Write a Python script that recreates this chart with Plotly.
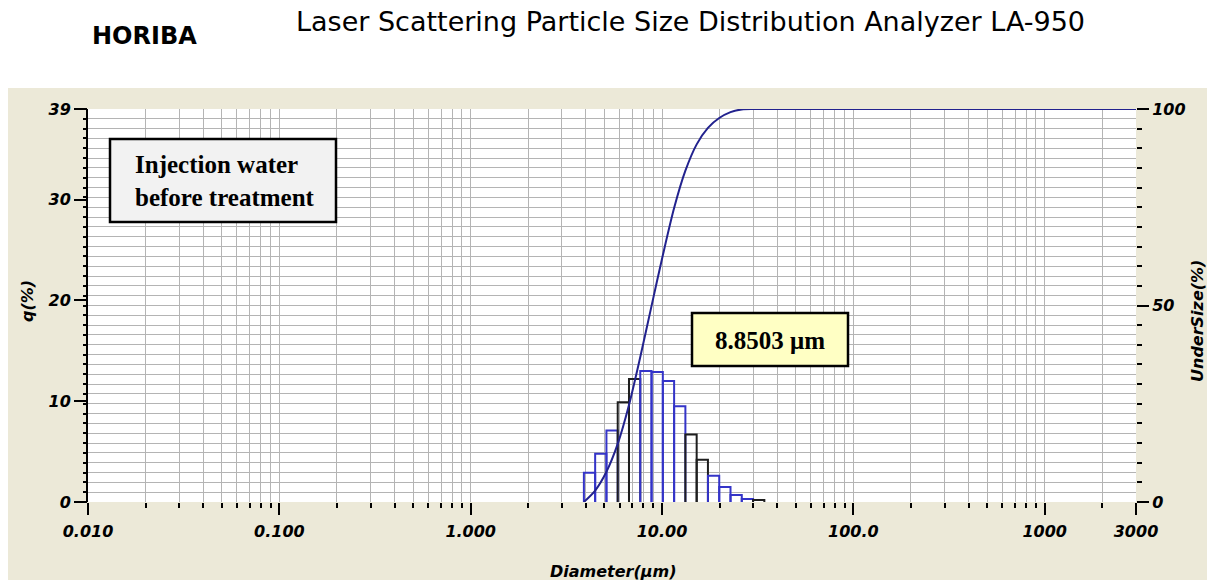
import plotly.graph_objects as go

# ---- data ----
bin_edges = [3.905, 4.472, 5.122, 5.867, 6.720, 7.697, 8.816, 10.097, 11.565,
             13.246, 15.172, 17.377, 19.904, 22.797, 26.111, 29.907, 34.255]
q_percent = [2.9, 4.8, 7.1, 9.9, 12.2, 13.0, 12.9, 12.0, 9.5, 6.7, 4.2, 2.6,
             1.5, 0.7, 0.3, 0.2]
bar_colors = ["blue", "blue", "blue", "black", "black", "blue", "blue", "blue",
              "blue", "black", "black", "blue", "blue", "blue", "blue", "black"]
undersize_d = [3.905, 4.472, 5.122, 5.867, 6.720, 7.697, 8.816, 10.097, 11.565,
               13.246, 15.172, 17.377, 19.904, 22.797, 26.111, 29.907, 34.255, 3000]
undersize_pct = [0, 2.9, 7.7, 14.8, 24.7, 36.9, 49.9, 62.8, 74.8, 84.3, 91.0,
                 95.2, 97.7, 99.2, 99.9, 100, 100, 100]
x_tickvals = [0.01, 0.1, 1, 10, 100, 1000, 3000]
x_ticktext = ["0.010", "0.100", "1.000", "10.00", "100.0", "1000", "3000"]
yl_tickvals = [0, 10, 20, 30, 39]
yr_tickvals = [0, 50, 100]
yr_ticktext = ["0", "50", "100"]
median_label = "8.8503 μm"
sample_label = "Injection water<br>before treatment"

COLORS = {"blue": "#3434c8", "black": "#1e1e1e"}
W, H = 1211, 584
L, R, T, B = 88, 75, 109, 82
PW, PH = W - L - R, H - T - B


def px_x(p):
    return (p - L) / PW


def px_y(p):
    return (H - B - p) / PH


fig = go.Figure()

# histogram outlines
for i, h in enumerate(q_percent):
    lo, hi = bin_edges[i], bin_edges[i + 1]
    fig.add_trace(go.Scatter(
        x=[lo, lo, hi, hi], y=[0, h, h, 0], mode="lines",
        line=dict(color=COLORS[bar_colors[i]], width=2),
        xaxis="x", yaxis="y", showlegend=False, hoverinfo="skip"))

# cumulative curve
fig.add_trace(go.Scatter(
    x=undersize_d, y=undersize_pct, mode="lines",
    line=dict(color="#22228e", width=2, shape="spline", smoothing=0.8),
    xaxis="x", yaxis="y2", showlegend=False))

tick_font = dict(family="DejaVu Sans", size=16, color="black",
                 weight="bold", style="italic")
grid_col = "#b4b4b4"

fig.update_layout(
    width=W, height=H,
    margin=dict(l=L, r=R, t=T, b=B, pad=0),
    paper_bgcolor="white",
    plot_bgcolor="rgba(0,0,0,0)",
    showlegend=False,
    xaxis=dict(
        type="log", range=[-2, 3.4771], tickmode="array",
        tickvals=x_tickvals, ticktext=x_ticktext,
        ticks="outside", ticklen=12, tickwidth=1.5, tickcolor="black",
        tickfont=tick_font, ticklabelstandoff=3,
        showgrid=True, gridcolor=grid_col, gridwidth=1.3,
        minor=dict(dtick="D1", ticks="outside", ticklen=5, tickwidth=1.5,
                   tickcolor="black", showgrid=True, gridcolor=grid_col,
                   gridwidth=1.3),
        showline=False, zeroline=False, automargin=False),
    yaxis=dict(
        range=[0, 39], tickmode="array", tickvals=yl_tickvals,
        ticks="outside", ticklen=12, tickwidth=1.5, tickcolor="black",
        tickfont=tick_font, showgrid=False, zeroline=False,
        showline=True, linecolor="black", linewidth=2, automargin=False),
    yaxis2=dict(
        overlaying="y", side="right", anchor="x", range=[0, 100],
        tickmode="array", tickvals=yr_tickvals, ticktext=yr_ticktext,
        ticks="outside", ticklen=12, tickwidth=1.5, tickcolor="black",
        tickfont=tick_font, showgrid=False, zeroline=False, showline=False,
        minor=dict(dtick=5, ticks="outside", ticklen=5, tickwidth=2,
                   tickcolor="black", showgrid=False),
        automargin=False),
    yaxis3=dict(
        overlaying="y", side="left", anchor="x", range=[0, 100],
        dtick=2.5, showticklabels=False, ticks="outside", ticklen=4,
        tickwidth=1.5, tickcolor="black", showgrid=True, gridcolor=grid_col,
        gridwidth=1, zeroline=False, showline=False, automargin=False),
)

# dummy trace to activate yaxis3
fig.add_trace(go.Scatter(x=[0.01], y=[0], yaxis="y3", mode="markers",
                         marker=dict(opacity=0), showlegend=False,
                         hoverinfo="skip"))

# beige panel and white plot area
fig.add_shape(type="rect", xref="paper", yref="paper",
              x0=px_x(8), x1=px_x(1207), y0=px_y(580), y1=px_y(88),
              fillcolor="#ece9d8", line=dict(width=0), layer="below")
fig.add_shape(type="rect", xref="paper", yref="paper",
              x0=0, x1=1, y0=0, y1=1,
              fillcolor="white", line=dict(width=0), layer="below")

# annotation boxes
fig.add_shape(type="rect", xref="paper", yref="paper",
              x0=px_x(110), x1=px_x(336), y0=px_y(222), y1=px_y(139),
              fillcolor="#f2f2f2", line=dict(color="black", width=2.5),
              layer="above")
fig.add_annotation(xref="paper", yref="paper", x=px_x(133), y=px_y(181),
                   xanchor="left", yanchor="middle", align="left",
                   text=sample_label, showarrow=False,
                   font=dict(family="Liberation Serif", size=25,
                             color="black", weight="bold"))
fig.add_shape(type="rect", xref="paper", yref="paper",
              x0=px_x(692), x1=px_x(848), y0=px_y(366), y1=px_y(313),
              fillcolor="#ffffc4", line=dict(color="black", width=2.5),
              layer="above")
fig.add_annotation(xref="paper", yref="paper", x=px_x(770), y=px_y(340),
                   xanchor="center", yanchor="middle",
                   text=median_label, showarrow=False,
                   font=dict(family="Liberation Serif", size=25,
                             color="black", weight="bold"))

# titles
fig.add_annotation(xref="paper", yref="paper", x=px_x(144.5), y=px_y(36),
                   xanchor="center", yanchor="middle", text="HORIBA",
                   showarrow=False,
                   font=dict(family="DejaVu Sans", size=24, color="black",
                             weight="bold"))
fig.add_annotation(xref="paper", yref="paper", x=px_x(690), y=px_y(22),
                   xanchor="center", yanchor="middle",
                   text="Laser Scattering Particle Size Distribution Analyzer LA-950",
                   showarrow=False,
                   font=dict(family="DejaVu Sans", size=27, color="black"))

axis_title_font = dict(family="DejaVu Sans", size=16, color="black",
                       weight="bold", style="italic")
fig.add_annotation(xref="paper", yref="paper", x=px_x(27), y=px_y(301),
                   xanchor="center", yanchor="middle", text="q(%)",
                   textangle=-90, showarrow=False, font=axis_title_font)
fig.add_annotation(xref="paper", yref="paper", x=px_x(1197), y=px_y(321),
                   xanchor="center", yanchor="middle", text="UnderSize(%)",
                   textangle=-90, showarrow=False, font=axis_title_font)
fig.add_annotation(xref="paper", yref="paper", x=px_x(613), y=px_y(571),
                   xanchor="center", yanchor="middle", text="Diameter(μm)",
                   showarrow=False, font=axis_title_font)

fig.write_html("out.html",
               config={"displayModeBar": False},
               post_script="document.body.style.margin='0px';"
                           "document.body.style.overflow='hidden';")
